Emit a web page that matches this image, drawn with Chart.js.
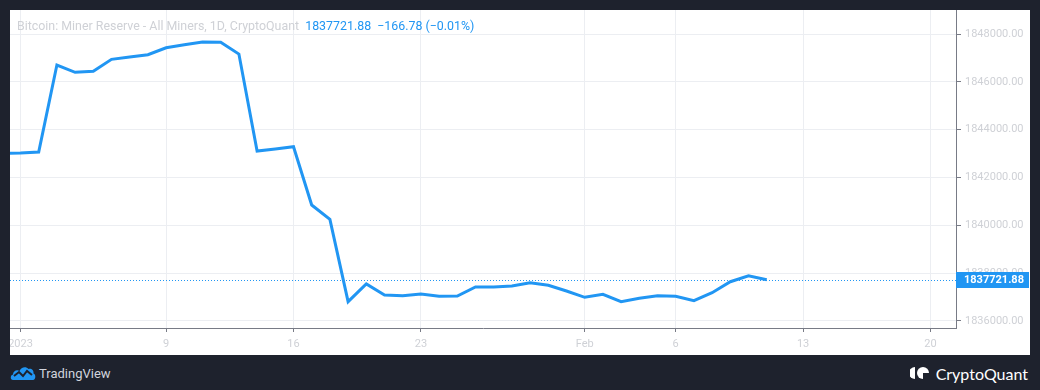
<!DOCTYPE html>
<html>
<head>
<meta charset="utf-8">
<script src="https://cdn.jsdelivr.net/npm/chart.js@4.4.0/dist/chart.umd.min.js"></script>
<style>
  html, body { margin: 0; padding: 0; background: #1e222d; }
  body { width: 1040px; height: 390px; position: relative; overflow: hidden; font-family: Roboto, "Noto Sans", sans-serif; }
  #panel { position: absolute; left: 10px; top: 10px; width: 1020px; height: 345px; background: #fff; }
  #chart { position: absolute; left: 0; top: 0; }
  #legend { position: absolute; left: 7px; top: 8px; font-size: 12.4px; white-space: pre; color: #cfd1d6; }
  #legend .val { color: #2196f3; }
  #tv { position: absolute; left: 10px; top: 363px; height: 20px; display: flex; align-items: center; color: #d1d4dc; font-size: 13px; }
  #tv svg { margin-right: 3px; }
  #cq { position: absolute; right: 12px; top: 362px; height: 22px; display: flex; align-items: center; color: #fff; font-size: 16px; font-family: Lato, "Open Sans", sans-serif; }
  #cq svg { margin-right: 6px; }
</style>
</head>
<body>
<div id="panel">
  <canvas id="chart" width="1020" height="345"></canvas>
  <div id="legend">Bitcoin: Miner Reserve - All Miners, 1D, CryptoQuant  <span class="val">1837721.88  −166.78 (−0.01%)</span></div>
</div>
<div id="tv">
  <svg width="26" height="16" viewBox="0 0 26 16">
    <path d="M3 15 C0 15 0 10 3 9.5 C3 6 7 4 9.5 6 C11 2 16 1 18.5 4 C21 3 24 5 23.5 8.5 C26 9 26 15 23 15 Z" fill="#2196f3"/>
    <polyline points="4,11 9,7 13,11 17,6 22,10" fill="none" stroke="#1e222d" stroke-width="2"/>
  </svg>
  <span>TradingView</span>
</div>
<div id="cq">
  <svg width="20" height="14" viewBox="0 0 20 14">
    <path d="M5 1 A6 6 0 0 0 5 13 Z" fill="#fff"/>
    <path d="M1 3 A5 5 0 0 0 1 11 Z" fill="#fff"/>
    <circle cx="13" cy="7" r="6" fill="#fff"/>
    <path d="M13 7 L19 7 L19 13 L13 13 Z" fill="#1e222d"/>
  </svg>
  <span>CryptoQuant</span>
</div>
<script>
// daily miner reserve (BTC)
const dates = [
  "2022-12-31",
  "2023-01-01", "2023-01-02", "2023-01-03", "2023-01-04", "2023-01-05", "2023-01-06", "2023-01-07",
  "2023-01-08", "2023-01-09", "2023-01-10", "2023-01-11", "2023-01-12", "2023-01-13", "2023-01-14",
  "2023-01-15", "2023-01-16", "2023-01-17", "2023-01-18", "2023-01-19", "2023-01-20", "2023-01-21",
  "2023-01-22", "2023-01-23", "2023-01-24", "2023-01-25", "2023-01-26", "2023-01-27", "2023-01-28",
  "2023-01-29", "2023-01-30", "2023-01-31", "2023-02-01", "2023-02-02", "2023-02-03", "2023-02-04",
  "2023-02-05", "2023-02-06", "2023-02-07", "2023-02-08", "2023-02-09", "2023-02-10", "2023-02-11"
];
const reserve = [
  1843002,
  1843023, 1843065, 1846702, 1846397, 1846439, 1846941, 1847037,
  1847133, 1847426, 1847551, 1847664, 1847651, 1847162, 1843107,
  1843191, 1843287, 1840849, 1840252, 1836807, 1837547, 1837087,
  1837058, 1837129, 1837033, 1837040, 1837421, 1837420, 1837463,
  1837601, 1837492, 1837254, 1836991, 1837116, 1836807, 1836949,
  1837058, 1837033, 1836849, 1837183, 1837643, 1837888.66, 1837721.88
];
const xTickDates = ["2023-01-01", "2023-01-09", "2023-01-16", "2023-01-23", "2023-02-01", "2023-02-06", "2023-02-13", "2023-02-20"];
const xTickLabels = ["2023", "9", "16", "23", "Feb", "6", "13", "20"];
const yTicks = [1836000, 1838000, 1840000, 1842000, 1844000, 1846000, 1848000];

const DAY = 86400000;
const origin = Date.parse("2023-01-01");
const dayOf = (d) => (Date.parse(d) - origin) / DAY;

const blue = "#2196f3";
const gridColor = "#eceef2";
const axisColor = "#787b86";
const labelColor = "#cfd1d6";

const points = dates.map((d, i) => ({ x: dayOf(d), y: reserve[i] }));
const lastValue = reserve[reserve.length - 1];

// no edge padding for labels, the plot runs to the panel edge
const noPad = (scale) => {
  scale.paddingTop = 0;
  scale.paddingBottom = 0;
  scale.paddingLeft = 0;
  scale.paddingRight = 0;
};

const priceLine = {
  id: "priceLine",
  afterDatasetsDraw(chart) {
    const { ctx, chartArea, scales } = chart;
    const y = Math.round(scales.y.getPixelForValue(lastValue)) + 0.5;
    ctx.save();
    ctx.strokeStyle = blue;
    ctx.lineWidth = 1;
    ctx.setLineDash([1, 2]);
    ctx.beginPath();
    ctx.moveTo(chartArea.left, y);
    ctx.lineTo(chartArea.right, y);
    ctx.stroke();
    ctx.setLineDash([]);
    // value box on the axis
    ctx.fillStyle = blue;
    ctx.fillRect(chartArea.right, y - 8.5, scales.y.width - 1, 16);
    ctx.fillStyle = "#fff";
    ctx.font = "bold 11px Roboto";
    ctx.textBaseline = "middle";
    ctx.fillText(lastValue.toFixed(2), chartArea.right + 8, y);
    ctx.restore();
  },
};

new Chart(document.getElementById("chart").getContext("2d"), {
  type: "line",
  data: {
    datasets: [
      {
        data: points,
        borderColor: blue,
        borderWidth: 3,
        pointRadius: 0,
        tension: 0,
        fill: false,
      },
    ],
  },
  options: {
    responsive: false,
    animation: false,
    events: [],
    layout: { padding: 0 },
    plugins: { legend: { display: false }, tooltip: { enabled: false } },
    scales: {
      x: {
        type: "linear",
        position: "bottom",
        min: -0.577,
        max: 51.4,
        afterBuildTicks: (scale) => {
          scale.ticks = xTickDates.map((d) => ({ value: dayOf(d) }));
        },
        afterFit: (scale) => {
          scale.height = 27;
          noPad(scale);
        },
        grid: { color: gridColor, tickColor: axisColor, tickLength: 4 },
        border: { color: axisColor, width: 1 },
        ticks: {
          autoSkip: false,
          maxRotation: 0,
          padding: 6,
          color: labelColor,
          font: { family: "Roboto", size: 11 },
          callback: (v, i) => xTickLabels[i],
        },
      },
      y: {
        position: "right",
        min: 1835707,
        max: 1849004,
        afterBuildTicks: (scale) => {
          scale.ticks = yTicks.map((v) => ({ value: v }));
        },
        afterFit: (scale) => {
          scale.width = 74;
          noPad(scale);
        },
        grid: { color: gridColor, tickColor: axisColor, tickLength: 5 },
        border: { color: axisColor, width: 1 },
        ticks: {
          padding: 4,
          color: labelColor,
          font: { family: "Roboto", size: 11 },
          callback: (v) => v.toFixed(2),
        },
      },
    },
  },
  plugins: [priceLine],
});
</script>
</body>
</html>
